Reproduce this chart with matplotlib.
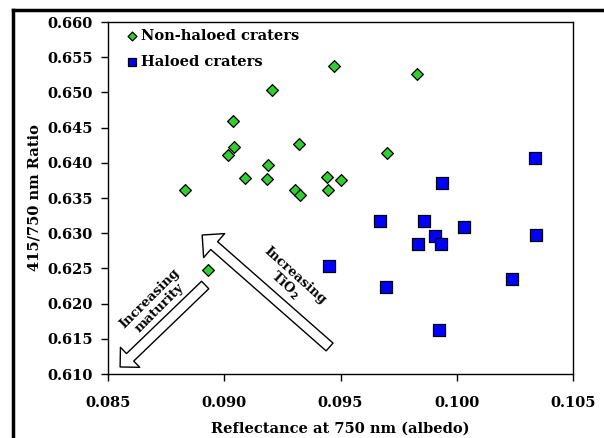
import matplotlib
matplotlib.use("Agg")
import matplotlib.pyplot as plt
from matplotlib.patches import FancyArrowPatch
from matplotlib.lines import Line2D

plt.rcParams['font.family'] = 'DejaVu Serif'
plt.rcParams['font.weight'] = 'bold'

# non-haloed craters (green diamonds)
nonhalo_x = [0.08830, 0.08932, 0.09017, 0.09038, 0.09043, 0.09088, 0.09184, 0.09190, 0.09206,
             0.09323, 0.09306, 0.09326, 0.09471, 0.09830, 0.09698, 0.09440, 0.09503, 0.09447]
nonhalo_y = [0.6361, 0.6248, 0.6411, 0.6459, 0.6423, 0.6378, 0.6377, 0.6397, 0.6503,
             0.6427, 0.6361, 0.6354, 0.6537, 0.6526, 0.6414, 0.6380, 0.6376, 0.6362]

# haloed craters (blue squares)
halo_x = [0.10338, 0.09935, 0.09670, 0.09859, 0.10032, 0.09907, 0.09835, 0.09931,
          0.10343, 0.09697, 0.10237, 0.09924, 0.09450]
halo_y = [0.6407, 0.6372, 0.6318, 0.6318, 0.6309, 0.6296, 0.6284, 0.6284,
          0.6297, 0.6224, 0.6235, 0.6163, 0.6254]

xticks = [0.085, 0.090, 0.095, 0.100, 0.105]
yticks = [0.610, 0.615, 0.620, 0.625, 0.630, 0.635, 0.640, 0.645, 0.650, 0.655, 0.660]

fig = plt.figure(figsize=(6.04, 4.38), dpi=100)
ax = fig.add_axes([108/604, 1 - 374/438, (573-108)/604, (374-22)/438])

ax.scatter(nonhalo_x, nonhalo_y, marker='D', s=36, c='#33cc33', edgecolors='black',
           linewidths=0.9, label='Non-haloed craters', zorder=3)
ax.scatter(halo_x, halo_y, marker='s', s=72, c='#0000ff', edgecolors='black',
           linewidths=0.9, label='Haloed craters', zorder=3)

ax.set_xlim(0.085, 0.105)
ax.set_ylim(0.610, 0.660)
ax.set_xticks(xticks)
ax.set_yticks(yticks)
ax.set_xticklabels([f"{v:.3f}" for v in xticks])
ax.set_yticklabels([f"{v:.3f}" for v in yticks])
ax.tick_params(direction='out', length=5, width=1, labelsize=10.5)
ax.tick_params(axis='x', pad=11)
ax.tick_params(axis='y', pad=6)
for s in ax.spines.values():
    s.set_linewidth(1.0)

ax.set_xlabel('Reflectance at 750 nm (albedo)', fontsize=10.5, fontweight='bold', labelpad=8)
ax.set_ylabel('415/750 nm Ratio', fontsize=10.5, fontweight='bold', labelpad=4)

# legend markers are smaller than the plotted ones
leg = ax.legend(loc='upper left', bbox_to_anchor=(0.01, 1.01), frameon=False,
                fontsize=10.5, handletextpad=0.05, labelspacing=0.85, handlelength=1.2,
                borderaxespad=0.3, markerscale=0.75)

# annotation arrows
arr_style = "simple,head_width=23,head_length=11.5,tail_width=7.5"
ax.add_patch(FancyArrowPatch((0.09453, 0.61384), (0.08905, 0.62974), arrowstyle=arr_style,
                             mutation_scale=1, shrinkA=0, shrinkB=0, fc='white',
                             ec='black', lw=1.0, zorder=2))
arr_style2 = "simple,head_width=20,head_length=10,tail_width=7.5"
ax.add_patch(FancyArrowPatch((0.08918, 0.62264), (0.08552, 0.61100), arrowstyle=arr_style2,
                             mutation_scale=1, shrinkA=0, shrinkB=0, fc='white',
                             ec='black', lw=1.0, zorder=2))

ax.text(0.09280, 0.62320, 'Increasing\nTiO$_2$', rotation=-42, ha='center', va='center',
        fontsize=9.5, fontweight='bold', linespacing=1.0, rotation_mode='anchor')
ax.text(0.08700, 0.62010, 'Increasing\nmaturity', rotation=45, ha='center', va='center',
        fontsize=9.5, fontweight='bold', linespacing=1.0, rotation_mode='anchor')

# outer frame (cut off at right and bottom)
fig.add_artist(Line2D([13/604, 1.0], [1 - 10/438, 1 - 10/438], color='black', lw=2.5,
                      transform=fig.transFigure))
fig.add_artist(Line2D([13/604, 13/604], [0.0, 1 - 10/438], color='black', lw=2.5,
                      transform=fig.transFigure))

fig.savefig('out.png', dpi=100)
